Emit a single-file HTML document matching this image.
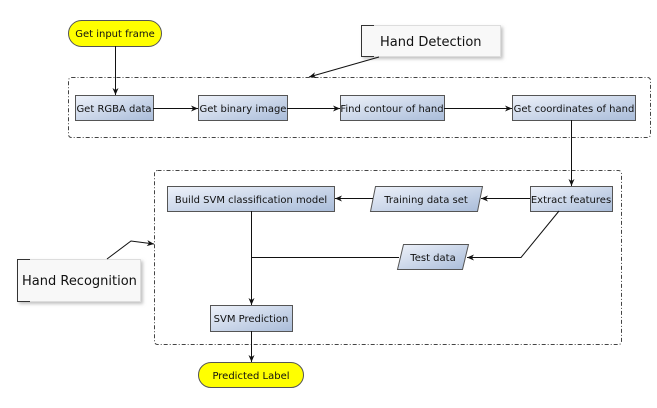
<!DOCTYPE html>
<html><head><meta charset="utf-8"><style>
body{margin:0;background:#fff}
svg{display:block}
text{font-family:"DejaVu Sans","Liberation Sans",sans-serif;font-size:10px;fill:#111}
</style></head><body>
<svg width="657" height="408" viewBox="0 0 657 408" xmlns="http://www.w3.org/2000/svg">
<defs>
<linearGradient id="g" x1="0" y1="0" x2="1" y2="1">
<stop offset="0" stop-color="#eef2fa"/><stop offset="1" stop-color="#a9bcd9"/>
</linearGradient>
<marker id="a" markerWidth="8" markerHeight="8" refX="7" refY="4" orient="auto" markerUnits="userSpaceOnUse">
<path d="M0,1 L7,4 L0,7 L2,4 Z" fill="#111"/></marker>
<filter id="sh" x="-10%" y="-10%" width="130%" height="140%"><feDropShadow dx="2" dy="2" stdDeviation="1.5" flood-color="#999" flood-opacity="0.6"/></filter>
</defs>
<g fill="none" stroke="#444" stroke-width="1" stroke-dasharray="4,2,1,2">
<rect x="68.5" y="77.5" width="582" height="60" rx="3"/>
<rect x="154.5" y="170.5" width="467" height="174" rx="3"/>
</g>
<rect x="68.5" y="20.5" width="93" height="26" rx="13" fill="#ffff00" stroke="#555"/>
<text x="115" y="37" text-anchor="middle">Get input frame</text>
<rect x="198.5" y="362.5" width="105" height="25" rx="12.5" fill="#ffff00" stroke="#555"/>
<text x="251" y="379" text-anchor="middle">Predicted Label</text>
<rect x="361.5" y="25.5" width="139" height="31" fill="#f8f8f8" stroke="#ddd" filter="url(#sh)"/>
<path d="M374,25.5 H361.5 V56.5 H374" fill="none" stroke="#333"/>
<text x="380" y="46" style="font-size:13px">Hand Detection</text>
<rect x="17.5" y="259.5" width="123" height="42" fill="#f8f8f8" stroke="#ddd" filter="url(#sh)"/>
<path d="M30,259.5 H17.5 V301.5 H30" fill="none" stroke="#333"/>
<text x="22" y="285" style="font-size:13px">Hand Recognition</text>
<g stroke="#555" fill="url(#g)">
<rect x="75.5" y="95.5" width="78" height="25"/>
<rect x="198.5" y="95.5" width="89" height="25"/>
<rect x="340.5" y="95.5" width="104" height="25"/>
<rect x="512.5" y="95.5" width="123" height="25"/>
<rect x="167.5" y="186.5" width="167" height="25"/>
<path d="M375.5,186.5 H482.5 L477.5,211.5 H370.5 Z"/>
<rect x="530.5" y="186.5" width="82" height="25"/>
<path d="M403.5,244.5 H468.5 L462.5,269.5 H397.5 Z"/>
<rect x="210.5" y="305.5" width="82" height="26"/>
</g>
<text x="114" y="112" text-anchor="middle">Get RGBA data</text>
<text x="243" y="112" text-anchor="middle">Get binary image</text>
<text x="392" y="112" text-anchor="middle">Find contour of hand</text>
<text x="574" y="112" text-anchor="middle">Get coordinates of hand</text>
<text x="251" y="203" text-anchor="middle">Build SVM classification model</text>
<text x="426" y="203" text-anchor="middle">Training data set</text>
<text x="571" y="203" text-anchor="middle">Extract features</text>
<text x="433" y="261" text-anchor="middle">Test data</text>
<text x="251" y="322" text-anchor="middle">SVM Prediction</text>
<g stroke="#111" fill="none" marker-end="url(#a)">
<line x1="115.5" y1="46" x2="115.5" y2="95"/>
<line x1="153" y1="108.5" x2="198" y2="108.5"/>
<line x1="287" y1="108.5" x2="340" y2="108.5"/>
<line x1="444" y1="108.5" x2="512" y2="108.5"/>
<line x1="571.5" y1="120" x2="571.5" y2="186"/>
<line x1="530" y1="198.5" x2="481" y2="198.5"/>
<line x1="373" y1="198.5" x2="335" y2="198.5"/>
<polyline points="559,211 521,257.5 467,257.5"/>
<line x1="251.5" y1="211" x2="251.5" y2="305"/>
<line x1="251.5" y1="331" x2="251.5" y2="362"/>
<line x1="379" y1="57" x2="309" y2="77"/>
<polyline points="107,259 131,241 154,244"/>
</g>
<line x1="251.5" y1="257.5" x2="399" y2="257.5" stroke="#111"/>
</svg>
</body></html>
